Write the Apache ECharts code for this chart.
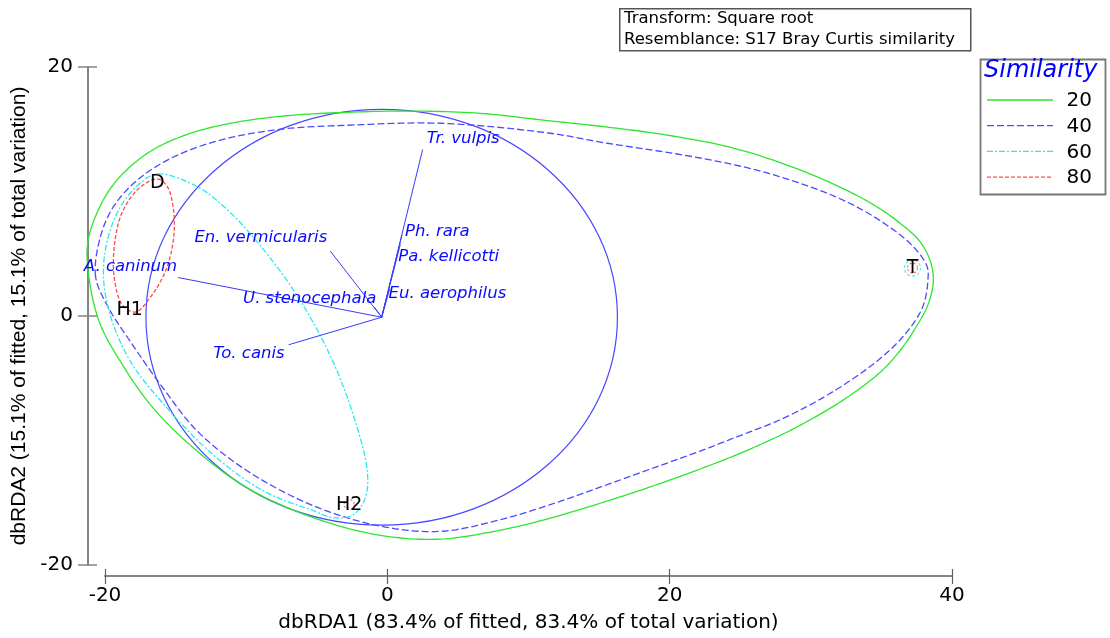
<!DOCTYPE html>
<html>
<head>
<meta charset="utf-8">
<script src="https://cdn.jsdelivr.net/npm/echarts@6/dist/echarts.min.js"></script>
<style>
html, body { margin: 0; padding: 0; background: #fff; }
#chart { width: 1110px; height: 638px; }
</style>
</head>
<body>
<div id="chart"></div>
<script>
// Sample scores on dbRDA1 / dbRDA2
const sampleNames = ['D', 'H1', 'H2', 'T'];
const sampleX = [-16.3, -18.25, -2.7, 37.2];
const sampleY = [10.7, 0.5, -15.15, 3.85];

// Species vectors (tips), all drawn from the common origin
const vectorNames = ['Tr. vulpis', 'Ph. rara', 'Pa. kellicotti', 'Eu. aerophilus',
  'En. vermicularis', 'A. caninum', 'U. stenocephala', 'To. canis'];
const vectorX = [2.5, 1.04, 0.92, 0.16, -4.04, -14.82, -0.92, -6.99];
const vectorY = [13.37, 6.54, 5.75, 2.15, 5.21, 3.09, 0.72, -2.31];
const vectorOrigin = [-0.4, -0.1];
const circleRadius = 16.7;

// Axis ticks
const xTicks = [-20, 0, 20, 40];
const yTicks = [-20, 0, 20];

// Similarity contour levels
const contourLevels = ['20', '40', '60', '80'];

const contour20 = [
  [-21.22, 5.91], [-20.4, 8.7], [-19.14, 10.93], [-17.01, 13.06], [-14.65, 14.39],
  [-11.82, 15.32], [-7.58, 16.04], [-2.85, 16.36], [1.84, 16.46], [6.58, 16.28],
  [11.54, 15.67], [15.08, 15.24], [19.82, 14.53], [24.5, 13.49], [29.24, 11.73],
  [33.7, 9.42], [36.18, 7.58], [37.88, 5.75], [38.65, 3.51], [38.44, 1.36],
  [37.24, -1.28], [35.4, -3.99], [32.78, -6.38], [29.24, -8.78], [25.7, -10.69],
  [22.16, -12.29], [18.62, -13.73], [15.08, -15.04], [11.54, -16.24], [8.0, -17.2],
  [3.75, -17.92], [-0.5, -17.62], [-5.24, -16.2], [-9.93, -13.81], [-13.47, -10.85],
  [-16.57, -7.42], [-18.9, -3.67], [-20.4, -0.48], [-21.15, 3.22]
];

const contour40 = [
  [-20.67, 3.19], [-20.32, 6.38], [-19.4, 8.78], [-17.7, 10.93], [-15.15, 12.77],
  [-11.82, 14.13], [-7.58, 15.0], [-2.83, 15.32], [3.75, 15.48], [11.54, 14.68],
  [15.08, 13.97], [22.16, 12.69], [26.9, 11.49], [32.07, 9.42], [35.12, 7.5],
  [37.24, 5.59], [38.23, 3.99], [38.3, 2.95], [37.95, 0.8], [36.81, -1.28],
  [34.9, -3.43], [31.58, -6.07], [28.04, -8.22], [24.5, -9.82], [22.16, -10.85],
  [18.62, -12.3], [15.08, -13.75], [11.54, -15.15], [8.0, -16.36], [3.75, -17.3],
  [-0.5, -16.88], [-5.24, -15.24], [-9.91, -12.45], [-13.45, -9.26], [-15.86, -5.83],
  [-18.19, -2.08], [-19.82, 0.8]
];

const contour60 = [
  [-16.28, 11.41], [-13.45, 10.38], [-11.12, 8.3], [-8.78, 5.35], [-6.37, 1.6],
  [-4.04, -3.19], [-2.41, -7.98], [-1.42, -12.45], [-1.56, -14.6], [-2.41, -15.96],
  [-3.82, -16.2], [-5.24, -15.64], [-8.78, -14.05], [-12.32, -11.17], [-15.58, -7.42],
  [-18.19, -3.67], [-19.61, 0.0], [-20.11, 3.19], [-19.82, 6.15], [-18.9, 8.78],
  [-17.49, 10.69]
];

const contour80 = [
  [-16.28, 11.01], [-15.58, 10.38], [-15.15, 8.54], [-15.15, 6.15], [-15.72, 3.59],
  [-16.78, 1.52], [-17.84, 0.32], [-18.76, 0.88], [-19.33, 2.95], [-19.33, 5.75],
  [-18.76, 8.38], [-17.63, 10.22]
];

// Single-sample contours (tiny rings round isolated samples)
const ring60Samples = ['T'];
const ring80Samples = ['T', 'H2'];

const FONT = 'DejaVu Sans';
const lineColors = { '20': '#2ee62e', '40': '#4b4bff', '60': '#2ae8ee', '80': '#ff4a4a' };
const lineDash = { '20': null, '40': [7, 3], '60': [6, 2, 2, 2], '80': [4, 2] };
const vectorColor = '#3a3aff';

// label placement next to each vector tip: [dx, dy, align]
const vectorLabelPlace = {
  'Tr. vulpis': [4, -11, 'left'],
  'Ph. rara': [3, -3, 'left'],
  'Pa. kellicotti': [-2, 12, 'left'],
  'Eu. aerophilus': [-1, 4, 'left'],
  'En. vermicularis': [-3, -13, 'right'],
  'A. caninum': [-1, -11, 'right'],
  'U. stenocephala': [2, -8, 'right'],
  'To. canis': [-4, 9, 'right']
};

function pointsOf(names) {
  return names.map(n => {
    const i = sampleNames.indexOf(n);
    return [sampleX[i], sampleY[i]];
  });
}

// Closed centripetal Catmull-Rom outline through pixel points
function smoothLoop(pts, steps) {
  const n = pts.length;
  const out = [];
  const knot = (a, b) => Math.pow(Math.hypot(b[0] - a[0], b[1] - a[1]), 0.5) || 1e-6;
  const lerp = (a, b, ta, tb, t) => [
    ((tb - t) * a[0] + (t - ta) * b[0]) / (tb - ta),
    ((tb - t) * a[1] + (t - ta) * b[1]) / (tb - ta)
  ];
  for (let i = 0; i < n; i++) {
    const p0 = pts[(i - 1 + n) % n], p1 = pts[i], p2 = pts[(i + 1) % n], p3 = pts[(i + 2) % n];
    const t0 = 0, t1 = t0 + knot(p0, p1), t2 = t1 + knot(p1, p2), t3 = t2 + knot(p2, p3);
    for (let s = 0; s < steps; s++) {
      const t = t1 + (t2 - t1) * s / steps;
      const a1 = lerp(p0, p1, t0, t1, t), a2 = lerp(p1, p2, t1, t2, t), a3 = lerp(p2, p3, t2, t3, t);
      const b1 = lerp(a1, a2, t0, t2, t), b2 = lerp(a2, a3, t1, t3, t);
      out.push(lerp(b1, b2, t1, t2, t));
    }
  }
  return out;
}

const contours = { '20': contour20, '40': contour40, '60': contour60, '80': contour80 };

// each contour is one closed smooth outline through its points
const contourSeries = contourLevels.map(level => ({
  type: 'custom',
  name: level,
  silent: true,
  clip: false,
  z: 3,
  data: contours[level],
  renderItem(params, api) {
    if (params.dataIndex !== 0) return null;
    const pts = contours[level].map(p => api.coord(p));
    return {
      type: 'polygon',
      shape: { points: smoothLoop(pts, 12) },
      style: { fill: null, stroke: lineColors[level], lineWidth: 1.3, lineDash: lineDash[level] }
    };
  }
}));

const ringSeries = [
  {
    type: 'scatter', name: 'ring60', data: pointsOf(ring60Samples), symbol: 'circle', symbolSize: 16,
    silent: true, z: 4,
    itemStyle: { color: 'rgba(0,0,0,0)', borderColor: lineColors['60'], borderWidth: 1.2, borderType: [3, 2] }
  },
  {
    type: 'scatter', name: 'ring80', data: pointsOf(ring80Samples), symbol: 'circle', symbolSize: 10,
    silent: true, z: 4,
    itemStyle: { color: 'rgba(0,0,0,0)', borderColor: lineColors['80'], borderWidth: 1.2, borderType: [2, 2] }
  }
];

const circleSeries = {
  type: 'custom',
  name: 'circle',
  silent: true,
  clip: false,
  z: 2,
  data: [[vectorOrigin[0], vectorOrigin[1], circleRadius]],
  renderItem(params, api) {
    const c = api.coord([api.value(0), api.value(1)]);
    const s = api.size([api.value(2), api.value(2)]);
    return {
      type: 'ellipse',
      shape: { cx: c[0], cy: c[1], rx: s[0], ry: s[1] },
      style: { fill: null, stroke: '#4848ff', lineWidth: 1.2 }
    };
  }
};

const vectorSeries = {
  type: 'custom',
  name: 'vectors',
  silent: true,
  clip: false,
  z: 5,
  data: vectorNames.map((n, i) => [vectorOrigin[0], vectorOrigin[1], vectorX[i], vectorY[i]]),
  renderItem(params, api) {
    const p0 = api.coord([api.value(0), api.value(1)]);
    const p1 = api.coord([api.value(2), api.value(3)]);
    const name = vectorNames[params.dataIndex];
    const place = vectorLabelPlace[name];
    return {
      type: 'group',
      children: [
        {
          type: 'line',
          shape: { x1: p0[0], y1: p0[1], x2: p1[0], y2: p1[1] },
          style: { stroke: vectorColor, lineWidth: 1 }
        },
        {
          type: 'text',
          x: p1[0] + place[0],
          y: p1[1] + place[1],
          style: {
            text: name, fill: '#0a0aff', font: 'italic 16.5px "' + FONT + '"',
            align: place[2], verticalAlign: 'middle'
          }
        }
      ]
    };
  }
};

const sampleSeries = {
  type: 'custom',
  name: 'samples',
  silent: true,
  clip: false,
  z: 10,
  data: sampleNames.map((n, i) => [sampleX[i], sampleY[i]]),
  renderItem(params, api) {
    const p = api.coord([api.value(0), api.value(1)]);
    return {
      type: 'text',
      x: p[0], y: p[1],
      style: {
        text: sampleNames[params.dataIndex], fill: '#000', font: '19px "' + FONT + '"',
        align: 'center', verticalAlign: 'middle'
      }
    };
  }
};

// legend: one sample line and level per row
const legendRows = contourLevels.map((level, i) => {
  const y = 100 + i * 25.7;
  return [
    {
      type: 'line', silent: true,
      shape: { x1: 987, y1: y, x2: 1053, y2: y },
      style: { stroke: lineColors[level], lineWidth: 1.3, lineDash: lineDash[level] }
    },
    {
      type: 'text', silent: true, x: 1092, y: y + 1,
      style: { text: level, fill: '#000', font: '20px "' + FONT + '"', align: 'right', verticalAlign: 'middle' }
    }
  ];
}).flat();

const axisGray = '#858585';

const chart = echarts.init(document.getElementById('chart'), null, { renderer: 'canvas' });
chart.setOption({
  animation: false,
  backgroundColor: '#fff',
  grid: { left: 105, right: 158, top: 67, bottom: 70 },
  xAxis: [
    {
      type: 'value', position: 'bottom', min: xTicks[0], max: xTicks[xTicks.length - 1], interval: 20, offset: 11,
      axisLine: { show: true, onZero: false, lineStyle: { color: axisGray, width: 2 } },
      axisTick: { show: true, length: 8, lineStyle: { color: '#606060', width: 1.2 } },
      axisLabel: { show: true, margin: 10, color: '#000', fontFamily: FONT, fontSize: 20 },
      splitLine: { show: false },
      name: 'dbRDA1 (83.4% of fitted, 83.4% of total variation)',
      nameLocation: 'middle', nameGap: 37,
      nameTextStyle: { color: '#000', fontFamily: FONT, fontSize: 20 }
    },
    {
      type: 'value', position: 'bottom', min: xTicks[0], max: xTicks[xTicks.length - 1], interval: 20, offset: 11,
      axisLine: { show: false, onZero: false },
      axisTick: { show: true, inside: true, length: 7, lineStyle: { color: '#606060', width: 1.2 } },
      axisLabel: { show: false },
      splitLine: { show: false }
    }
  ],
  yAxis: [
    {
      type: 'value', position: 'left', min: yTicks[0], max: yTicks[yTicks.length - 1], interval: 20, offset: 17,
      axisLine: { show: true, onZero: false, lineStyle: { color: axisGray, width: 2 } },
      axisTick: { show: true, length: 10, lineStyle: { color: axisGray, width: 1.5 } },
      axisLabel: { show: true, margin: 15, color: '#000', fontFamily: FONT, fontSize: 20 },
      splitLine: { show: false },
      name: 'dbRDA2 (15.1% of fitted, 15.1% of total variation)',
      nameLocation: 'middle', nameGap: 58, nameRotate: 90,
      nameTextStyle: { color: '#000', fontFamily: 'Liberation Sans', fontSize: 21 }
    },
    {
      type: 'value', position: 'left', min: yTicks[0], max: yTicks[yTicks.length - 1], interval: 20, offset: 17,
      axisLine: { show: false, onZero: false },
      axisTick: { show: true, inside: true, length: 9, lineStyle: { color: axisGray, width: 1.5 } },
      axisLabel: { show: false },
      splitLine: { show: false }
    }
  ],
  graphic: [
    {
      type: 'rect', left: 619, top: 8, silent: true,
      shape: { width: 351, height: 42 },
      style: { fill: '#fff', stroke: '#555', lineWidth: 1.5 }
    },
    {
      type: 'text', left: 624, top: 10, silent: true,
      style: { text: 'Transform: Square root', fill: '#000', font: '16.5px "' + FONT + '"' }
    },
    {
      type: 'text', left: 624, top: 31, silent: true,
      style: { text: 'Resemblance: S17 Bray Curtis similarity', fill: '#000', font: '16.5px "' + FONT + '"' }
    },
    {
      type: 'rect', left: 978, top: 57, silent: true,
      shape: { width: 125, height: 135 },
      style: { fill: null, stroke: '#777', lineWidth: 1.8 }
    },
    {
      type: 'text', left: 984, top: 59, silent: true,
      style: { text: 'Similarity', fill: '#0000ff', font: 'italic 24px "' + FONT + '"' }
    }
  ].concat(legendRows),
  series: [circleSeries, vectorSeries].concat(contourSeries, ringSeries, [sampleSeries])
});
</script>
</body>
</html>
